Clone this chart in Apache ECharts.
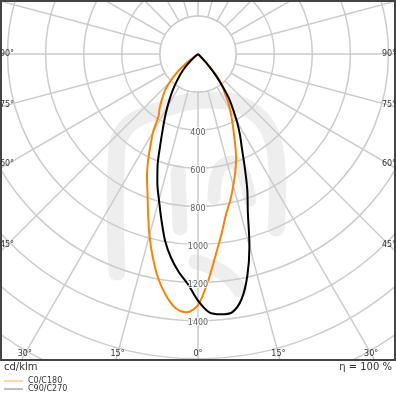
<!DOCTYPE html>
<html>
<head>
<meta charset="utf-8">
<script src="https://cdn.jsdelivr.net/npm/echarts@6/dist/echarts.min.js"></script>
<style>html,body{margin:0;padding:0;background:#fff;}#c{width:396px;height:396px;}</style>
</head>
<body>
<div id="c"></div>
<script>
// gamma angles (deg from nadir)
const gamma = [0,2.5,5,7.5,10,12.5,15,17.5,20,22.5,25,27.5,30,32.5,35,37.5,40,42.5,45,47.5,50,52.5,55,60,180];
// cd/klm values per half-plane
const C0   = [1318,1195,1060,950,852,785,715,650,585,508,440,385,335,290,240,205,163,83,15,0,0,0,0,0,0];
const C180 = [1318,1357,1340,1280,1198,1095,985,872,775,700,620,540,470,385,352,318,285,252,210,165,115,55,0,0,0];
const C90  = [1295,1358,1372,1368,1310,1195,1043,870,756,640,545,476,408,340,281,205,141,82,25,0,0,0,0,0,0];
const C270 = [1295,1210,1150,1080,995,889,792,710,620,518,439,377,322,273,229,188,151,118,86,52,20,0,0,0,0];
const ringLabels = [400,600,800,1000,1200,1400];
const angleLabels = [90,75,60,45,30,15,0];
const seriesNames = ['C0/C180','C90/C270'];

function plane(right, left){
  const pts = [];
  for (let i = gamma.length-1; i >= 0; i--) pts.push([left[i], -gamma[i]]);
  for (let i = 1; i < gamma.length; i++) pts.push([right[i], gamma[i]]);
  return pts;
}

const cx = 198, cy = 54, R = 381;
const FONT = '"DejaVu Sans", sans-serif';
const chart = echarts.init(document.getElementById('c'), null, {renderer:'canvas'});

const graphics = [];
// faint watermark logo (decoration, under the grid)
function wmStroke(points, w){
  graphics.push({type:'polyline', z:0, silent:true, shape:{points:points, smooth:0.4},
    style:{stroke:'#eeeeee', fill:null, lineWidth:w, lineCap:'round', lineJoin:'round'}});
}
wmStroke([[117,272],[116,170],[124,130],[160,110],[215,100],[256,114],[275,150],[276,228]], 17);
wmStroke([[178,172],[180,228]], 15);
wmStroke([[214,198],[220,168],[238,164],[250,200]], 13);
wmStroke([[196,262],[222,272],[240,290]], 15);
// inner white disc
graphics.push({type:'circle', shape:{cx:cx, cy:cy, r:R*200/2000}, style:{fill:'#fff', stroke:'#cccccc', lineWidth:1.5}, z:3, silent:true});
// mask below frame
graphics.push({type:'rect', shape:{x:0, y:361, width:396, height:40}, style:{fill:'#fff'}, z:4, silent:true});
// frame
graphics.push({type:'rect', shape:{x:1, y:1, width:394, height:359}, style:{fill:null, stroke:'#444', lineWidth:2}, z:51, silent:true});
// angle labels
function addAngleLabel(a, side){
  const rad = a*Math.PI/180;
  const dx = side*Math.sin(rad), dy = Math.cos(rad);
  let t = Infinity;
  if (Math.abs(dx) > 1e-6) t = Math.min(t, (side > 0 ? (389-cx) : (cx-7)) / Math.abs(dx));
  if (dy > 1e-6) t = Math.min(t, (354-cy)/dy);
  graphics.push({type:'text', x: cx + dx*t, y: cy + dy*t, z:52, silent:true,
    style:{text: a + '°', font: '8px ' + FONT, fill:'#333', textAlign:'center', textVerticalAlign:'middle'}});
}
angleLabels.forEach(a => { if (a === 0) addAngleLabel(0, 1); else { addAngleLabel(a, -1); addAngleLabel(a, 1); } });
graphics.push({type:'text', x:4, y:367, z:52, silent:true, style:{text:'cd/klm', font:'10px ' + FONT, fill:'#333', textAlign:'left', textVerticalAlign:'middle'}});
graphics.push({type:'text', x:392, y:367, z:52, silent:true, style:{text:'η = 100 %', font:'10px ' + FONT, fill:'#333', textAlign:'right', textVerticalAlign:'middle'}});

const option = {
  animation:false,
  backgroundColor:'#fff',
  polar:{center:[cx, cy], radius:[0, R]},
  angleAxis:{type:'value', min:-180, max:180, interval:15, startAngle:90, clockwise:false,
    axisLine:{show:false}, axisTick:{show:false}, axisLabel:{show:false},
    splitLine:{show:true, lineStyle:{color:'#cccccc', width:1.5}}, z:2},
  radiusAxis:{type:'value', min:0, max:2000, interval:200,
    axisLine:{show:false}, axisTick:{show:false}, axisLabel:{show:false},
    splitLine:{show:true, lineStyle:{color:'#cccccc', width:1.5}}, z:2},
  legend:{show:true, left:4, top:377, orient:'vertical', padding:0, itemWidth:19, itemHeight:1.5, itemGap:0, icon:'rect', z:60,
    textStyle:{fontSize:8, fontFamily:FONT, color:'#333', lineHeight:8},
    data:[{name:seriesNames[0], itemStyle:{color:'#fdc891'}}, {name:seriesNames[1], itemStyle:{color:'#aaaaaa'}}]},
  graphic:{elements:graphics},
  series:[
    {name:seriesNames[0], type:'line', coordinateSystem:'polar', data:plane(C0, C180), showSymbol:false, smooth:0.3,
      lineStyle:{color:'#ff8000', width:2}, itemStyle:{color:'#ff8000'}, z:5},
    {name:seriesNames[1], type:'line', coordinateSystem:'polar', data:plane(C90, C270), showSymbol:false, smooth:0.3,
      lineStyle:{color:'#000', width:2}, itemStyle:{color:'#000'}, z:6},
    {name:'rings', type:'scatter', coordinateSystem:'polar', data:ringLabels.map(v => [v, 0]), symbol:'circle', symbolSize:1,
      itemStyle:{color:'rgba(0,0,0,0)'}, z:10, silent:true,
      label:{show:true, position:'inside', offset:[0,2.5], formatter: p => String(p.value[0]), fontSize:8, fontFamily:FONT, color:'#333', textBorderColor:'#fff', textBorderWidth:2}}
  ]
};
chart.setOption(option);
</script>
</body>
</html>
